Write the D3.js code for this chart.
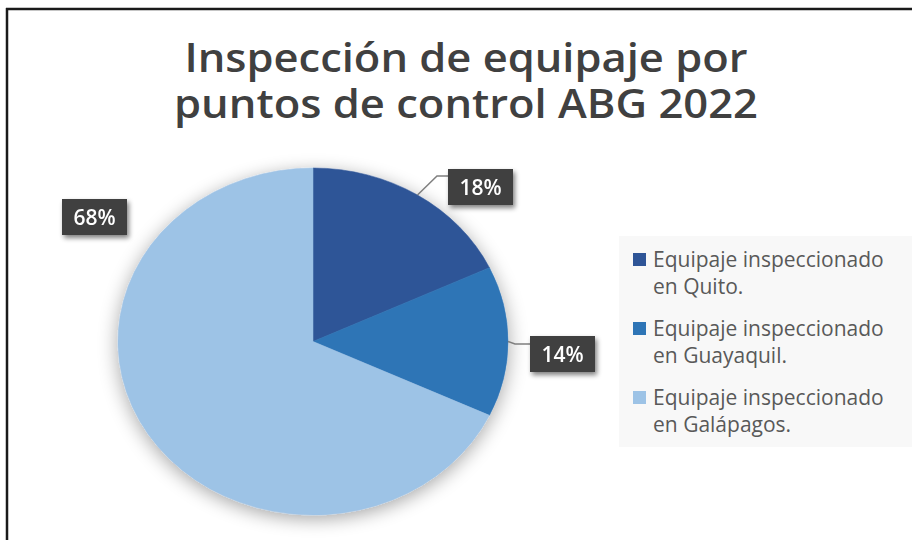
<!DOCTYPE html>
<html>
<head>
<meta charset="utf-8">
<script src="https://cdn.jsdelivr.net/npm/d3@7"></script>
<style>
  body { margin: 0; background: #fff; }
  svg { display: block; }
</style>
</head>
<body>
<div id="chart"></div>
<script>
// data
var titleLines = ["Inspección de equipaje por", "puntos de control ABG 2022"];
var categories = ["Equipaje inspeccionado en Quito.", "Equipaje inspeccionado en Guayaquil.", "Equipaje inspeccionado en Galápagos."];
var legendLines = [["Equipaje inspeccionado", "en Quito."], ["Equipaje inspeccionado", "en Guayaquil."], ["Equipaje inspeccionado", "en Galápagos."]];
var values = [18, 14, 68];
var colors = ["#2f5597", "#2e75b6", "#9dc3e6"];

var svgWidth = 912;
var svgHeight = 540;

var svg = d3.select("#chart")
  .append("svg")
  .attr("width", svgWidth)
  .attr("height", svgHeight);

var defs = svg.append("defs");

var pieShadow = defs.append("filter").attr("id", "pieShadow")
  .attr("x", "-30%").attr("y", "-30%").attr("width", "160%").attr("height", "160%");
pieShadow.append("feGaussianBlur").attr("in", "SourceAlpha").attr("stdDeviation", 9).attr("result", "b");
pieShadow.append("feOffset").attr("in", "b").attr("dx", 0).attr("dy", 4).attr("result", "o");
pieShadow.append("feComponentTransfer").attr("in", "o").attr("result", "s")
  .append("feFuncA").attr("type", "linear").attr("slope", 0.35);
var m1 = pieShadow.append("feMerge");
m1.append("feMergeNode").attr("in", "s");
m1.append("feMergeNode").attr("in", "SourceGraphic");

var boxShadow = defs.append("filter").attr("id", "boxShadow")
  .attr("x", "-30%").attr("y", "-40%").attr("width", "160%").attr("height", "180%");
boxShadow.append("feGaussianBlur").attr("in", "SourceAlpha").attr("stdDeviation", 2.5).attr("result", "b");
boxShadow.append("feOffset").attr("in", "b").attr("dx", 2).attr("dy", 3).attr("result", "o");
boxShadow.append("feComponentTransfer").attr("in", "o").attr("result", "s")
  .append("feFuncA").attr("type", "linear").attr("slope", 0.5);
var m2 = boxShadow.append("feMerge");
m2.append("feMergeNode").attr("in", "s");
m2.append("feMergeNode").attr("in", "SourceGraphic");

// frame (only top and left edges show)
svg.append("line").attr("x1", 6).attr("x2", svgWidth).attr("y1", 9).attr("y2", 9)
  .attr("stroke", "#1a1a1a").attr("stroke-width", 2.5);
svg.append("line").attr("x1", 7).attr("x2", 7).attr("y1", 8).attr("y2", svgHeight)
  .attr("stroke", "#1a1a1a").attr("stroke-width", 2.5);

// title, one text with a tspan per line
var titleWidths = [563, 584];
var title = svg.append("text")
  .attr("text-anchor", "middle")
  .style("font-family", "'Open Sans', sans-serif")
  .style("font-weight", 600)
  .style("font-size", "39px")
  .style("fill", "#404040");

title.selectAll("tspan")
  .data(titleLines)
  .enter()
  .append("tspan")
  .attr("x", 466)
  .attr("y", (d, i) => 72 + i * 46)
  .attr("textLength", (d, i) => titleWidths[i])
  .attr("lengthAdjust", "spacingAndGlyphs")
  .text(d => d);

// pie (stretched horizontally like the picture)
var cx = 313, cy = 341.5, ry = 173.5, rx = 195;
var pie = d3.pie().sort(null).value(d => d);
var arcs = pie(values);
var arc = d3.arc().innerRadius(0).outerRadius(ry);

var pieGroup = svg.append("g")
  .attr("transform", `translate(${cx}, ${cy}) scale(${rx / ry}, 1)`);

pieGroup.append("g")
  .attr("filter", "url(#pieShadow)")
  .selectAll("path")
  .data(arcs)
  .enter()
  .append("path")
  .attr("d", arc)
  .attr("fill", (d, i) => colors[i])
  .attr("stroke", (d, i) => colors[i])
  .attr("stroke-width", 0.5);

// data labels (hand-placed boxes as in the picture)
var labelBoxes = [
  { x: 448, y: 169, lead: [437, 176] },
  { x: 530, y: 336, lead: [515, 344] },
  { x: 62, y: 199, lead: null }
];
var boxW = 65, boxH = 36;

function edgePoint(d) {
  var a = (d.startAngle + d.endAngle) / 2;
  return [cx + rx * Math.sin(a), cy - ry * Math.cos(a)];
}

arcs.forEach(function (d, i) {
  var b = labelBoxes[i];
  if (b.lead) {
    var p = edgePoint(d);
    svg.append("polyline")
      .attr("points", [p, b.lead, [b.x, b.lead[1]]].map(q => q.join(",")).join(" "))
      .attr("fill", "none")
      .attr("stroke", "#7f7f7f")
      .attr("stroke-width", 1.5);
  }
  var g = svg.append("g").attr("filter", "url(#boxShadow)");
  g.append("rect")
    .attr("x", b.x).attr("y", b.y)
    .attr("width", boxW).attr("height", boxH)
    .attr("fill", "#404040");
  g.append("text")
    .attr("x", b.x + boxW / 2)
    .attr("y", b.y + boxH / 2 + 7.5)
    .attr("text-anchor", "middle")
    .style("font-family", "'Open Sans', sans-serif")
    .style("font-weight", 600)
    .style("font-size", "21px")
    .style("fill", "#ffffff")
    .text(Math.round(d.value) + "%");
});

// legend
var legend = svg.append("g");
legend.append("rect")
  .attr("x", 619).attr("y", 236)
  .attr("width", 293).attr("height", 211)
  .attr("fill", "#f8f8f8");

var items = legend.selectAll(".item")
  .data(categories)
  .enter()
  .append("g")
  .attr("class", "item")
  .attr("transform", (d, i) => `translate(0, ${i * 69})`);

items.append("rect")
  .attr("x", 633).attr("y", 253)
  .attr("width", 13).attr("height", 13)
  .attr("fill", (d, i) => colors[i]);

items.each(function (d, i) {
  var t = d3.select(this).append("text")
    .style("font-family", "'Open Sans', sans-serif")
    .style("font-size", "21px")
    .style("fill", "#595959");
  legendLines[i].forEach(function (line, j) {
    t.append("tspan")
      .attr("x", 653)
      .attr("y", 267 + j * 27)
      .text(line);
  });
});
</script>
</body>
</html>
